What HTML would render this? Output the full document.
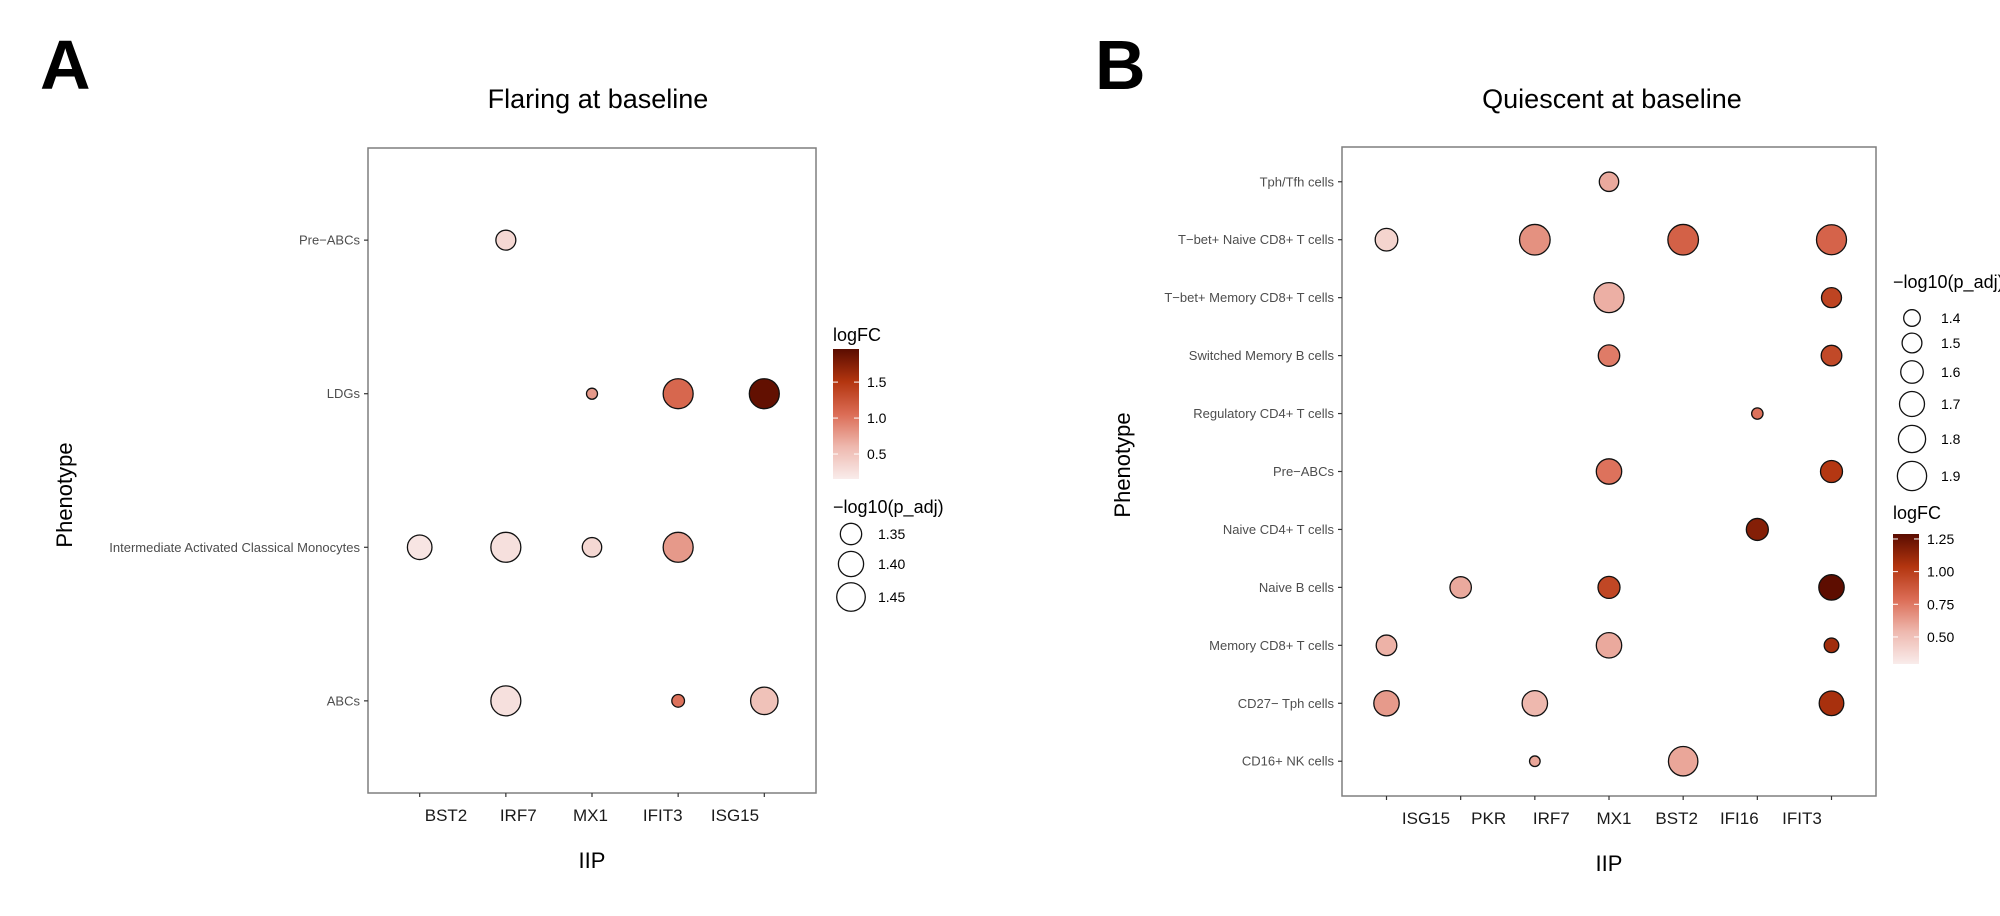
<!DOCTYPE html>
<html><head><meta charset="utf-8"><style>
html,body{margin:0;padding:0;background:#fff}
svg{display:block}
text{font-family:"Liberation Sans",Arial,sans-serif}
</style></head><body>
<svg id="fig" width="2000" height="916" viewBox="0 0 2000 916" xmlns="http://www.w3.org/2000/svg">
<defs>
<linearGradient id="gradA" x1="0" y1="1" x2="0" y2="0">
<stop offset="0" stop-color="#f9eceb"/><stop offset="0.25" stop-color="#eeb8ae"/><stop offset="0.5" stop-color="#db6c55"/><stop offset="0.75" stop-color="#b3350f"/><stop offset="1" stop-color="#5a0c00"/>
</linearGradient>
</defs>
<text x="40" y="89" font-size="70" font-weight="bold">A</text>
<text x="1095" y="89" font-size="70" font-weight="bold">B</text>
<g id="pA"></g>
<g id="pB"></g>
</svg>
<script>
// ---------- Panel A data ----------
const catsAx = ["BST2","IRF7","MX1","IFIT3","ISG15"];
const catsAy = ["Pre\u2212ABCs","LDGs","Intermediate Activated Classical Monocytes","ABCs"];
const ptsAgene = ["IRF7","MX1","IFIT3","ISG15","BST2","IRF7","MX1","IFIT3","IRF7","IFIT3","ISG15"];
const ptsAcell = [0,1,1,1,2,2,2,2,3,3,3];
const ptsAfc = [0.33,0.79,1.1,1.92,0.21,0.26,0.33,0.79,0.26,1.02,0.52];
const ptsAp = [1.334,1.257,1.473,1.473,1.391,1.473,1.328,1.473,1.473,1.268,1.432];
const fcTicksA = [0.5,1.0,1.5];
const fcTickLabelsA = ["0.5","1.0","1.5"];
const fcRangeA = [0.153,1.96];
const pBreaksA = [1.35,1.40,1.45];
const pBreakLabelsA = ["1.35","1.40","1.45"];

// ---------- Panel B data ----------
const catsBx = ["ISG15","PKR","IRF7","MX1","BST2","IFI16","IFIT3"];
const catsBy = ["Tph/Tfh cells","T\u2212bet+ Naive CD8+ T cells","T\u2212bet+ Memory CD8+ T cells","Switched Memory B cells","Regulatory CD4+ T cells","Pre\u2212ABCs","Naive CD4+ T cells","Naive B cells","Memory CD8+ T cells","CD27\u2212 Tph cells","CD16+ NK cells"];
const ptsBgene = ["MX1","ISG15","IRF7","BST2","IFIT3","MX1","IFIT3","MX1","IFIT3","IFI16","MX1","IFIT3","IFI16","PKR","MX1","IFIT3","ISG15","MX1","IFIT3","ISG15","IRF7","IFIT3","IRF7","BST2"];
const ptsBcell = [0,1,1,1,1,2,2,3,3,4,5,5,6,7,7,7,8,8,8,9,9,9,10,10];
const ptsBfc = [0.59,0.41,0.67,0.84,0.83,0.57,0.97,0.74,0.95,0.77,0.77,1.03,1.17,0.59,0.96,1.28,0.56,0.59,1.09,0.64,0.54,1.07,0.6,0.6];
const ptsBp = [1.486,1.603,1.969,1.969,1.938,1.938,1.507,1.557,1.528,1.274,1.718,1.579,1.579,1.557,1.579,1.718,1.528,1.718,1.346,1.718,1.718,1.684,1.259,1.907];
const fcTicksB = [0.5,0.75,1.0,1.25];
const fcTickLabelsB = ["0.50","0.75","1.00","1.25"];
const fcRangeB = [0.293,1.288];
const pBreaksB = [1.4,1.5,1.6,1.7,1.8,1.9];
const pBreakLabelsB = ["1.4","1.5","1.6","1.7","1.8","1.9"];

const NS="http://www.w3.org/2000/svg";
function mk(parent,tag,attrs,txt){const e=document.createElementNS(NS,tag);for(const k in attrs)e.setAttribute(k,attrs[k]);if(txt!==undefined)e.textContent=txt;parent.appendChild(e);return e;}
const stops=[[0,[249,236,235]],[0.25,[238,184,174]],[0.5,[219,108,85]],[0.75,[179,53,15]],[1,[90,12,0]]];
function colorAt(t){t=Math.max(0,Math.min(1,t));for(let i=1;i<stops.length;i++){if(t<=stops[i][0]){const a=stops[i-1],b=stops[i];const f=(t-a[0])/(b[0]-a[0]);const c=a[1].map((v,j)=>Math.round(v+(b[1][j]-v)*f));return `rgb(${c[0]},${c[1]},${c[2]})`;}}return "rgb(90,12,0)";}

function panel(cfg){
  const g=document.getElementById(cfg.id);
  const nx=cfg.cx.length, ny=cfg.cy.length;
  const bw=(cfg.right-cfg.left)/(nx-1+1.2), bh=(cfg.bottom-cfg.top)/(ny-1+1.2);
  const xS=i=>cfg.left+bw*(0.6+i);
  const yS=i=>cfg.top+bh*(0.6+i);
  let e;
  e=mk(g,"text",{x:cfg.titleX,y:108,"font-size":27,"text-anchor":"middle"},cfg.title);
  
  
  e=mk(g,"rect",{x:cfg.left,y:cfg.top,width:cfg.right-cfg.left,height:cfg.bottom-cfg.top,fill:"none",stroke:"#7f7f7f","stroke-width":1.5});
  
  
  cfg.cy.forEach((c,i)=>{
    e=mk(g,"line",{x1:cfg.left-4,x2:cfg.left,y1:yS(i),y2:yS(i),stroke:"#333","stroke-width":1.2});
    
    
    e=mk(g,"text",{x:cfg.left-8,y:yS(i)+4.5,"font-size":13,fill:"#4d4d4d","text-anchor":"end"},c);
    
    
  });
  cfg.cx.forEach((c,i)=>{
    e=mk(g,"line",{x1:xS(i),x2:xS(i),y1:cfg.bottom,y2:cfg.bottom+4,stroke:"#333","stroke-width":1.2});
    
    
    const lx=cfg.lab0+(cfg.lab1-cfg.lab0)*i/(nx-1);
    e=mk(g,"text",{x:lx,y:cfg.bottom+28,"font-size":17,fill:"#1a1a1a","text-anchor":"middle"},c);
    
    
  });
  e=mk(g,"text",{x:(cfg.left+cfg.right)/2,y:cfg.bottom+75,"font-size":22,"text-anchor":"middle"},"IIP");
  
  
  e=mk(g,"text",{x:0,y:0,"font-size":22,"text-anchor":"middle",transform:`translate(${cfg.phX},${cfg.phY}) rotate(-90)`},"Phenotype");
  
  
  const fcT=v=>(v-cfg.fcRange[0])/(cfg.fcRange[1]-cfg.fcRange[0]);
  cfg.gene.forEach((gn,k)=>{
    const xi=cfg.cx.indexOf(gn);
    const r=cfg.rFn(cfg.p[k]);
    e=mk(g,"circle",{cx:xS(xi),cy:yS(cfg.cell[k]),r:r,fill:colorAt(fcT(cfg.fc[k])),stroke:"#111","stroke-width":1.3});
    
    
  });
  const L=cfg.cl;
  e=mk(g,"text",{x:L.x,y:L.titleY,"font-size":18},"logFC");
  
  
  e=mk(g,"rect",{x:L.x,y:L.y0,width:26,height:L.y1-L.y0,fill:"url(#gradA)"});
  
  
  const cbY=v=>L.y1-(v-cfg.fcRange[0])/(cfg.fcRange[1]-cfg.fcRange[0])*(L.y1-L.y0);
  cfg.fcTicks.forEach((v,i)=>{
    e=mk(g,"line",{x1:L.x,x2:L.x+5,y1:cbY(v),y2:cbY(v),stroke:"#fff","stroke-width":1});
    
    
    e=mk(g,"line",{x1:L.x+21,x2:L.x+26,y1:cbY(v),y2:cbY(v),stroke:"#fff","stroke-width":1});
    
    
    e=mk(g,"text",{x:L.x+34,y:cbY(v)+5,"font-size":14},cfg.fcLabels[i]);
    
    
  });
  const S=cfg.sl;
  e=mk(g,"text",{x:S.titleX,y:S.titleY,"font-size":18},"\u2212log10(p_adj)");
  
  
  cfg.pBreaks.forEach((v,i)=>{
    e=mk(g,"circle",{cx:S.cx,cy:S.ys[i],r:cfg.rFn(v),fill:"none",stroke:"#111","stroke-width":1.3});
    
    
    e=mk(g,"text",{x:S.lx,y:S.ys[i]+5,"font-size":14},cfg.pLabels[i]);
    
    
  });
}

panel({id:"pA",title:"Flaring at baseline",titleX:598,left:368,right:816,top:148,bottom:793,
  cx:catsAx,cy:catsAy,lab0:446,lab1:735,phX:72,phY:495,
  gene:ptsAgene,cell:ptsAcell,fc:ptsAfc,p:ptsAp,fcRange:fcRangeA,
  rFn:v=>Math.sqrt(Math.max(4,900*v-1101)),
  fcTicks:fcTicksA,fcLabels:fcTickLabelsA,pBreaks:pBreaksA,pLabels:pBreakLabelsA,
  cl:{x:833,titleY:341,y0:349,y1:479},
  sl:{titleX:833,titleY:513,cx:851,lx:878,ys:[534,564,597]}});
panel({id:"pB",title:"Quiescent at baseline",titleX:1612,left:1342,right:1876,top:147,bottom:796,
  cx:catsBx,cy:catsBy,lab0:1426,lab1:1802,phX:1130,phY:465,
  gene:ptsBgene,cell:ptsBcell,fc:ptsBfc,p:ptsBp,fcRange:fcRangeB,
  rFn:v=>Math.sqrt(Math.max(4,290*v-337)),
  fcTicks:fcTicksB,fcLabels:fcTickLabelsB,pBreaks:pBreaksB,pLabels:pBreakLabelsB,
  cl:{x:1893,titleY:519,y0:534,y1:664},
  sl:{titleX:1893,titleY:288,cx:1912,lx:1941,ys:[318,343,372,404,439,476]}});
</script>
</body></html>
